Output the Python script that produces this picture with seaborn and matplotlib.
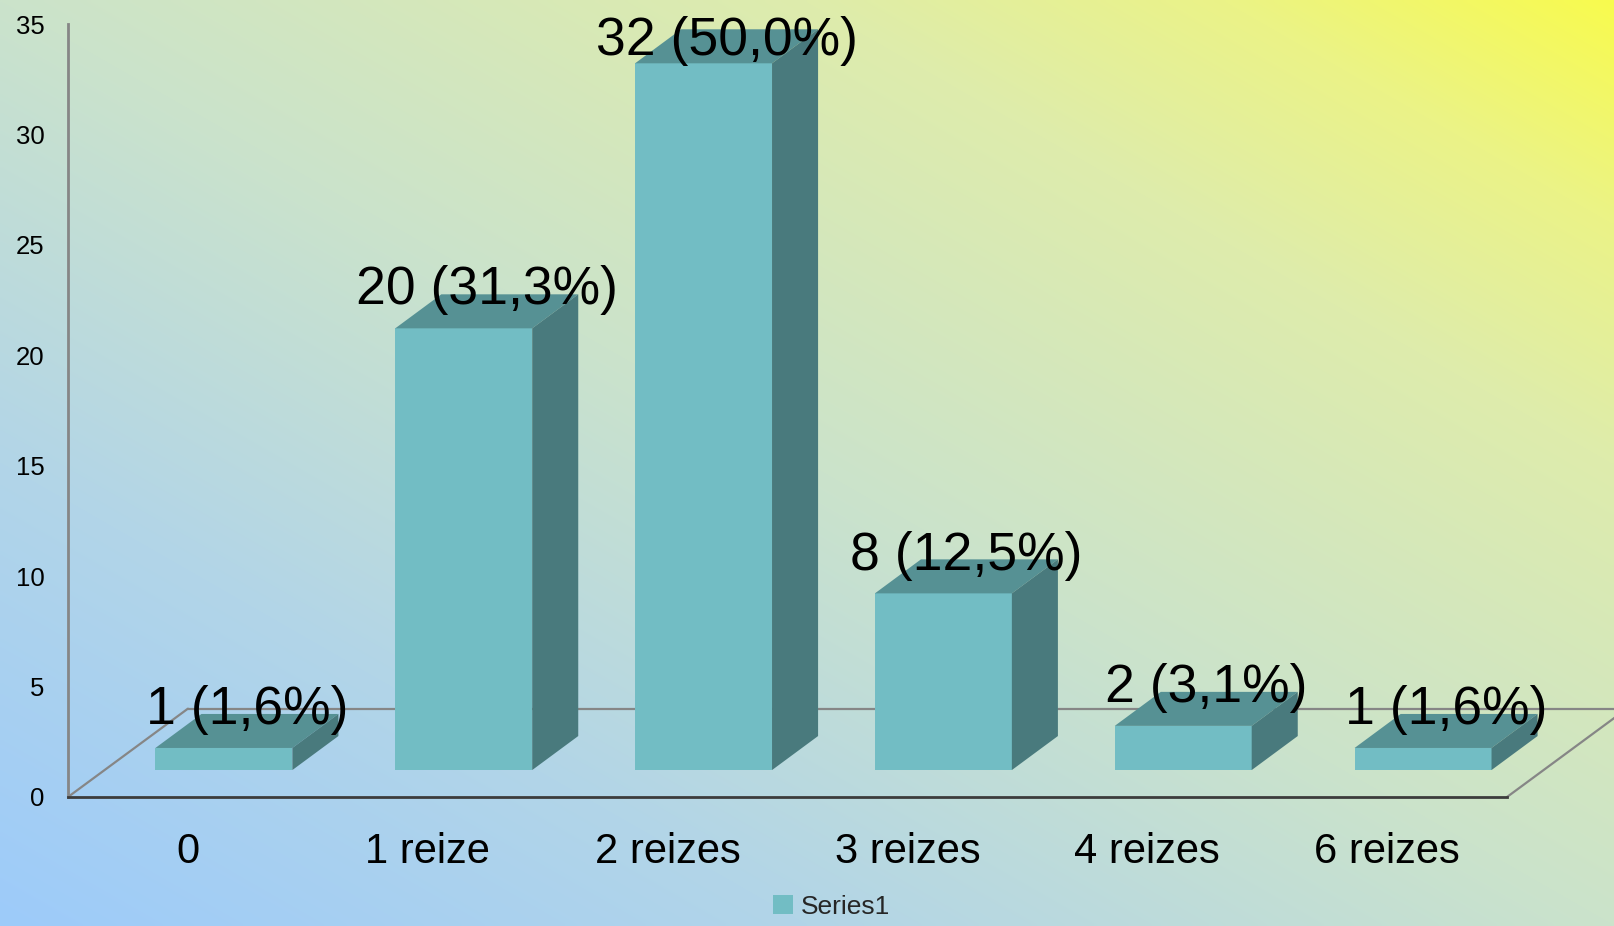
import numpy as np
import pandas as pd
import matplotlib
matplotlib.use("Agg")
import matplotlib.pyplot as plt
import matplotlib.transforms as mtransforms
from matplotlib.patches import Polygon, Patch
import seaborn as sns

# ----------------------------
# Data
# ----------------------------
categories = ["0", "1 reize", "2 reizes", "3 reizes", "4 reizes", "6 reizes"]
counts = [1, 20, 32, 8, 2, 1]
percents = ["1,6", "31,3", "50,0", "12,5", "3,1", "1,6"]
series_name = "Series1"
y_ticks = [0, 5, 10, 15, 20, 25, 30, 35]

FRONT = "#72BDC4"
TOP = "#569194"
SIDE = "#497A7D"
GRID_GRAY = "#868686"

# fake 3d geometry in data units
SHIFT_X, SHIFT_Y = 0.150, 1.22     # front face of bars sits inside the floor
DEPTH_X, DEPTH_Y = 0.192, 1.54     # bar depth
WALL_X, WALL_Y = 0.5, 4.0          # full floor depth

sns.set_style("white")
plt.rcParams["font.family"] = ["Liberation Sans", "DejaVu Sans"]

fig = plt.figure(figsize=(16.14, 9.26), dpi=100)

# ----------------------------
# Background gradient (blue bottom-left -> yellow top-right)
# ----------------------------
bg = fig.add_axes([0, 0, 1, 1], zorder=-10)
u = np.linspace(0, 1, 400)
v = np.linspace(1, 0, 240)
uu, vv = np.meshgrid(u, v)
t = (uu + vv) / 2
stops = [0.0, 0.25, 0.5, 0.75, 0.88, 1.0]
cols = np.array([
    [157, 203, 250],
    [178, 213, 232],
    [203, 227, 203],
    [222, 236, 172],
    [235, 243, 135],
    [248, 251, 78],
]) / 255.0
img = np.dstack([np.interp(t, stops, cols[:, k]) for k in range(3)])
bg.imshow(img, extent=[0, 1, 0, 1], aspect="auto", interpolation="bilinear")
bg.axis("off")

# ----------------------------
# Bars
# ----------------------------
ax = fig.add_axes([68 / 1614, 129 / 926, 1439 / 1614, 773 / 926])
ax.patch.set_alpha(0)

df = pd.DataFrame({"cat": categories, "n": counts})
sns.barplot(data=df, x="cat", y="n", color=FRONT, saturation=1,
            width=0.571, linewidth=0, ax=ax)

shift_tr = mtransforms.Affine2D().translate(SHIFT_X, SHIFT_Y) + ax.transData

for bar, n, pct in zip(ax.patches, counts, percents):
    x0 = bar.get_x()
    x1 = x0 + bar.get_width()
    h = bar.get_height()
    bar.set_transform(shift_tr)
    bar.set_clip_on(False)
    bar.set_zorder(3)
    top = Polygon([(x0, h), (x1, h), (x1 + DEPTH_X, h + DEPTH_Y), (x0 + DEPTH_X, h + DEPTH_Y)],
                  closed=True, facecolor=TOP, edgecolor="none", transform=shift_tr,
                  clip_on=False, zorder=3)
    side = Polygon([(x1, 0), (x1 + DEPTH_X, DEPTH_Y), (x1 + DEPTH_X, h + DEPTH_Y), (x1, h)],
                   closed=True, facecolor=SIDE, edgecolor="none", transform=shift_tr,
                   clip_on=False, zorder=3)
    ax.add_patch(top)
    ax.add_patch(side)
    xc = (x0 + x1) / 2 + SHIFT_X + DEPTH_X / 2
    yb = min(h + 2.30, 33.6)
    ax.text(xc, yb, f"{n} ({pct}%)", ha="center", va="baseline", fontsize=38.5,
            color="black", zorder=5, clip_on=False)

# ----------------------------
# Floor / walls
# ----------------------------
ax.plot([-0.5, -0.5 + WALL_X], [0, WALL_Y], color=GRID_GRAY, lw=1.6, clip_on=False, zorder=1)
ax.plot([-0.5 + WALL_X, 5.5 + WALL_X], [WALL_Y, WALL_Y], color=GRID_GRAY, lw=1.6,
        clip_on=False, zorder=1)
ax.plot([5.5, 5.5 + WALL_X], [0, WALL_Y], color=GRID_GRAY, lw=1.6, clip_on=False, zorder=1)

ax.set_xlim(-0.5, 5.5)
ax.set_ylim(0, 35)
ax.set_yticks(y_ticks)
ax.set_xlabel("")
ax.set_ylabel("")
for s in ["top", "right"]:
    ax.spines[s].set_visible(False)
ax.spines["left"].set_color(GRID_GRAY)
ax.spines["left"].set_linewidth(2)
ax.spines["bottom"].set_color("#3C3C3C")
ax.spines["bottom"].set_linewidth(2)
ax.tick_params(axis="y", length=0, pad=17, labelsize=18.5, colors="black")
ax.tick_params(axis="x", length=0, pad=25, labelsize=30, colors="black")

fig.legend(handles=[Patch(facecolor=FRONT, edgecolor="none")], labels=[series_name],
           loc="lower center", bbox_to_anchor=(0.515, -0.018), frameon=False,
           fontsize=19, handlelength=0.75, handleheight=0.75, handletextpad=0.3)

fig.savefig("out.png", dpi=100)
